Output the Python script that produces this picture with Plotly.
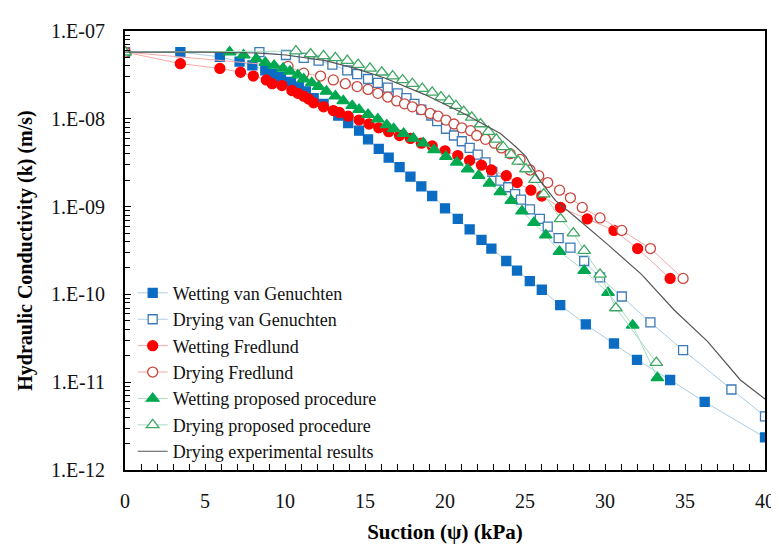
import plotly.graph_objects as go

# ---------------- data ----------------
wvg_x = [0, 3.46, 5.93, 7.16, 7.96, 8.77, 9.2, 9.75, 10.37, 10.86, 11.3, 11.79, 12.41, 13.33, 13.95,
         14.63, 15.19, 15.86, 16.48, 17.16, 17.84, 18.52, 19.2, 20.0, 20.8, 21.54, 22.28, 22.9, 23.83,
         24.5, 25.3, 26.05, 27.2, 28.8, 30.56, 32.0, 34.07, 36.23, 40.0]
wvg_k = [5.75e-8, 5.75e-8, 5.07e-8, 4.48e-8, 4.05e-8, 3.57e-8, 3.23e-8, 2.99e-8, 2.64e-8, 2.33e-8,
         2.05e-8, 1.72e-8, 1.48e-8, 1.09e-8, 8.95e-9, 7.32e-9, 5.84e-9, 4.54e-9, 3.62e-9, 2.82e-9,
         2.19e-9, 1.70e-9, 1.32e-9, 9.55e-10, 7.24e-10, 5.50e-10, 4.17e-10, 3.33e-10, 2.40e-10,
         1.87e-10, 1.42e-10, 1.13e-10, 7.55e-11, 4.56e-11, 2.76e-11, 1.80e-11, 1.06e-11, 5.96e-12, 2.35e-12]

dvg_x = [0, 8.40, 10.06, 11.17, 12.10, 12.96, 13.89, 14.51, 15.19, 15.80, 16.42, 17.04, 17.59, 18.09,
         18.52, 19.14, 19.51, 20.06, 20.56, 21.05, 21.54, 22.04, 22.53, 22.96, 23.46, 23.95, 24.38,
         24.75, 25.31, 25.93, 26.42, 27.10, 27.84, 28.70, 29.69, 31.05, 32.84, 34.88, 37.90, 40.0]
dvg_k = [5.75e-8, 5.75e-8, 5.33e-8, 4.94e-8, 4.59e-8, 4.15e-8, 3.57e-8, 3.23e-8, 2.84e-8, 2.57e-8,
         2.27e-8, 1.95e-8, 1.72e-8, 1.48e-8, 1.27e-8, 1.09e-8, 9.42e-9, 7.70e-9, 6.45e-9, 5.55e-9,
         4.66e-9, 3.91e-9, 3.19e-9, 2.48e-9, 1.98e-9, 1.66e-9, 1.39e-9, 1.20e-9, 9.31e-10, 7.24e-10,
         5.93e-10, 4.38e-10, 3.41e-10, 2.40e-10, 1.56e-10, 9.46e-11, 4.80e-11, 2.32e-11, 8.26e-12, 4.08e-12]

wfr_x = [0, 3.46, 5.93, 7.22, 8.02, 8.83, 9.20, 9.81, 10.43, 10.80, 11.17, 11.48, 11.79, 12.41, 13.02,
         13.40, 13.95, 14.63, 15.25, 15.86, 16.48, 17.16, 17.84, 18.52, 19.20, 20.0, 20.80, 21.54,
         22.28, 22.90, 23.83, 24.51, 25.37, 26.05, 27.22, 28.89, 30.56, 32.04, 34.07]
wfr_k = [5.75e-8, 4.25e-8, 3.75e-8, 3.39e-8, 3.07e-8, 2.77e-8, 2.51e-8, 2.39e-8, 2.10e-8, 1.95e-8,
         1.81e-8, 1.68e-8, 1.52e-8, 1.37e-8, 1.24e-8, 1.18e-8, 1.07e-8, 9.66e-9, 8.73e-9, 7.89e-9,
         7.14e-9, 6.45e-9, 5.98e-9, 5.28e-9, 4.90e-9, 4.32e-9, 3.81e-9, 3.36e-9, 2.96e-9, 2.61e-9,
         2.25e-9, 1.88e-9, 1.54e-9, 1.32e-9, 9.79e-10, 7.24e-10, 5.36e-10, 3.33e-10, 1.52e-10]

dfr_x = [0, 10.19, 11.17, 12.22, 13.02, 13.77, 14.51, 15.19, 15.80, 16.42, 16.98, 17.47, 17.96, 18.52,
         19.07, 19.57, 20.06, 20.56, 21.05, 21.60, 21.98, 22.53, 23.09, 23.52, 24.07, 24.69, 25.31,
         25.86, 26.42, 27.16, 27.84, 28.58, 29.69, 31.05, 32.84, 34.88]
dfr_k = [5.75e-8, 3.95e-8, 3.31e-8, 3.07e-8, 2.77e-8, 2.51e-8, 2.33e-8, 2.16e-8, 1.95e-8, 1.77e-8,
         1.60e-8, 1.48e-8, 1.37e-8, 1.27e-8, 1.15e-8, 1.07e-8, 9.66e-9, 8.73e-9, 7.89e-9, 7.32e-9,
         6.45e-9, 5.84e-9, 5.28e-9, 4.66e-9, 4.01e-9, 3.45e-9, 2.61e-9, 2.25e-9, 1.88e-9, 1.54e-9,
         1.26e-9, 9.79e-10, 7.43e-10, 5.36e-10, 3.33e-10, 1.52e-10]

wpp_x = [0, 6.54, 7.41, 8.21, 8.77, 9.32, 9.88, 10.31, 10.80, 11.17, 11.67, 12.10, 12.59, 13.15, 13.64,
         14.20, 14.63, 15.19, 15.80, 16.36, 16.79, 17.41, 18.02, 18.64, 19.32, 20.06, 20.74, 21.42,
         22.10, 22.78, 23.46, 24.14, 24.81, 25.56, 26.30, 27.16, 28.70, 30.19, 31.73, 33.27]
wpp_k = [5.75e-8, 5.75e-8, 5.33e-8, 4.82e-8, 4.36e-8, 4.05e-8, 3.75e-8, 3.48e-8, 3.15e-8, 2.84e-8,
         2.57e-8, 2.33e-8, 2.05e-8, 1.81e-8, 1.60e-8, 1.41e-8, 1.27e-8, 1.12e-8, 9.90e-9, 8.51e-9,
         7.70e-9, 6.79e-9, 5.98e-9, 5.28e-9, 4.43e-9, 3.71e-9, 3.19e-9, 2.68e-9, 2.25e-9, 1.84e-9,
         1.47e-9, 1.17e-9, 8.87e-10, 6.56e-10, 4.73e-10, 3.08e-10, 1.87e-10, 1.05e-10, 4.45e-11, 1.12e-11]

dpp_x = [0, 10.68, 11.60, 12.41, 13.15, 13.89, 14.57, 15.31, 16.05, 16.73, 17.35, 17.96, 18.58, 19.20,
         19.75, 20.25, 20.68, 21.17, 21.67, 22.22, 22.72, 23.21, 23.64, 24.14, 24.57, 25.06, 25.62,
         26.17, 27.22, 28.02, 28.70, 29.69, 30.68, 33.21]
dpp_k = [5.75e-8, 5.90e-8, 5.47e-8, 5.20e-8, 4.94e-8, 4.59e-8, 4.15e-8, 3.75e-8, 3.39e-8, 3.07e-8,
         2.77e-8, 2.51e-8, 2.21e-8, 2.00e-8, 1.77e-8, 1.60e-8, 1.41e-8, 1.21e-8, 1.04e-8, 8.73e-9,
         7.14e-9, 5.84e-9, 4.78e-9, 3.91e-9, 3.27e-9, 2.68e-9, 2.03e-9, 1.39e-9, 7.24e-10, 4.98e-10,
         3.16e-10, 1.69e-10, 7.00e-11, 1.67e-11]

exp_x = [0, 5.12, 8.40, 10.06, 12.53, 14.38, 16.23, 18.70, 21.17, 23.46, 24.44, 25.06, 25.49, 25.93,
         26.91, 28.15, 30.25, 32.28, 34.32, 36.42, 38.46, 40.0]
exp_k = [5.75e-8, 5.75e-8, 5.61e-8, 5.33e-8, 4.59e-8, 3.75e-8, 2.92e-8, 1.90e-8, 1.15e-8, 6.79e-9,
         4.78e-9, 3.71e-9, 2.68e-9, 1.98e-9, 1.17e-9, 7.62e-10, 3.59e-10, 1.69e-10, 6.65e-11,
         2.90e-11, 1.06e-11, 6.43e-12]

names = ["Wetting van Genuchten", "Drying van Genuchten", "Wetting Fredlund", "Drying Fredlund",
         "Wetting proposed procedure", "Drying proposed procedure", "Drying experimental results"]

y_tick_vals = [1e-12, 1e-11, 1e-10, 1e-9, 1e-8, 1e-7]
y_tick_text = ["1.E-12", "1.E-11", "1.E-10", "1.E-09", "1.E-08", "1.E-07"]
x_tick_vals = [0, 5, 10, 15, 20, 25, 30, 35, 40]

FONT = "Liberation Serif"

fig = go.Figure()


def add(x, y, name, symbol, size, fill, edge, linecol):
    fig.add_trace(go.Scatter(
        x=x, y=y, name=name, mode="lines+markers",
        line=dict(color=linecol, width=1),
        marker=dict(symbol=symbol, size=size, color=fill, line=dict(color=edge, width=1.3)),
    ))


add(wvg_x, wvg_k, names[0], "square", 9, "#0B6CC4", "#0B6CC4", "#A9CDE6")
add(dvg_x, dvg_k, names[1], "square", 9, "white", "#3D7AB8", "#A9CDE6")
add(wfr_x, wfr_k, names[2], "circle", 10, "#FF0000", "#FF0000", "#F5A8A8")
add(dfr_x, dfr_k, names[3], "circle", 10, "white", "#C8463C", "#F5A8A8")
add(wpp_x, wpp_k, names[4], "triangle-up", 11, "#00A850", "#00A850", "#A8DCC0")
add(dpp_x, dpp_k, names[5], "triangle-up", 11, "white", "#3FA864", "#A8DCC0")
fig.add_trace(go.Scatter(x=exp_x, y=exp_k, name=names[6], mode="lines",
                         line=dict(color="#555555", width=1.2)))

minor_vals = [m * 10.0 ** e for e in range(-12, -7) for m in range(2, 10)]

fig.update_layout(
    width=779, height=544,
    margin=dict(l=117, r=13, t=16, b=70),
    paper_bgcolor="white", plot_bgcolor="white",
    font=dict(family=FONT, size=20, color="#111111"),
    showlegend=True,
    legend=dict(x=0.012, y=0.445, xanchor="left", yanchor="top", bgcolor="rgba(0,0,0,0)",
                font=dict(family=FONT, size=18, color="#111111"), tracegroupgap=0,
                itemwidth=30),
    xaxis=dict(
        range=[0, 40], tickvals=x_tick_vals, showgrid=False, zeroline=False,
        showline=True, linecolor="black", linewidth=2, mirror=True,
        ticks="inside", ticklen=6, tickcolor="black", tickwidth=1,
        minor=dict(dtick=1, ticks="inside", ticklen=6, tickcolor="black", tickwidth=1, showgrid=False),
        ticklabelstandoff=12,
        title=dict(text="<b>Suction (ψ) (kPa)</b>", font=dict(family=FONT, size=21, color="black"),
                   standoff=13),
    ),
    yaxis=dict(
        type="log", range=[-12, -7], tickvals=y_tick_vals, ticktext=y_tick_text,
        showgrid=False, zeroline=False,
        showline=True, linecolor="black", linewidth=2, mirror=True,
        ticks="inside", ticklen=6, tickcolor="black", tickwidth=1,
        minor=dict(tickvals=minor_vals, ticks="inside", ticklen=5, tickcolor="black", tickwidth=1,
                   showgrid=False),
        ticklabelstandoff=14,
        title=dict(text="<b>Hydraulic Conductivity (k) (m/s)</b>",
                   font=dict(family=FONT, size=20, color="black"), standoff=13),
    ),
)

fig.write_html("out.html")
